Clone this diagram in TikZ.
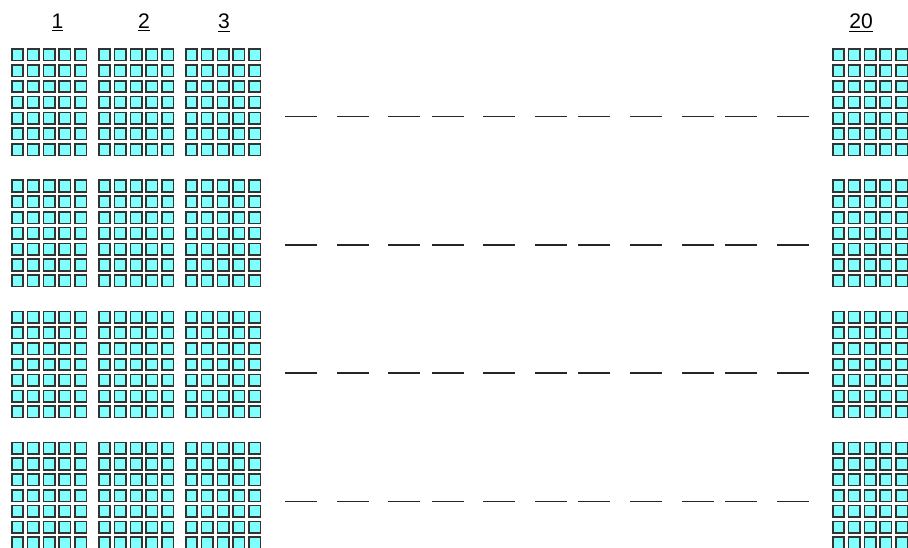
\documentclass[tikz,border=0pt]{standalone}
\usepackage{fontspec}
\setmainfont{Liberation Sans}
\usetikzlibrary{positioning}
\definecolor{cellCyan}{HTML}{80FFFF}

\begin{document}
\begin{tikzpicture}[x=0.02cm, y=-0.02cm,
  cell/.style={draw=black!80, fill=cellCyan, line width=0.9pt,
               minimum size=0.23cm, inner sep=0pt},
  colnum/.style={anchor=base, font=\fontsize{12}{14}\selectfont},
  gap/.style={line width=0.9pt, draw=black!85},
]
  \useasboundingbox (0,0) rectangle (908,547);

  % column numbers
  \foreach \b/\lx in {1/57.5, 2/144, 3/224, 20/861}
    \node[colnum] (lbl\b) at (\lx, 28.3) {\underline{\b}};

  % blocks of cells, one row of blocks at a time
  \foreach \r in {0,...,3}{
    \foreach \b/\bx in {1/11, 2/98, 3/185, 20/832}{
      \foreach \i in {0,...,4}
        \foreach \j in {0,...,6}
          \node[cell] (c\r-\b-\i-\j)
            at ({\bx+6.5+15.8*\i}, {48.3+131.1*\r+6.6+15.8*\j}) {};
    }
    % the missing columns
    \foreach \dx in {285,337,388,432,483,535,578,630,682,725,777}
      \draw[gap] (\dx, {116.7+128.2*\r}) -- ++(32,0);
  }
\end{tikzpicture}
\end{document}
